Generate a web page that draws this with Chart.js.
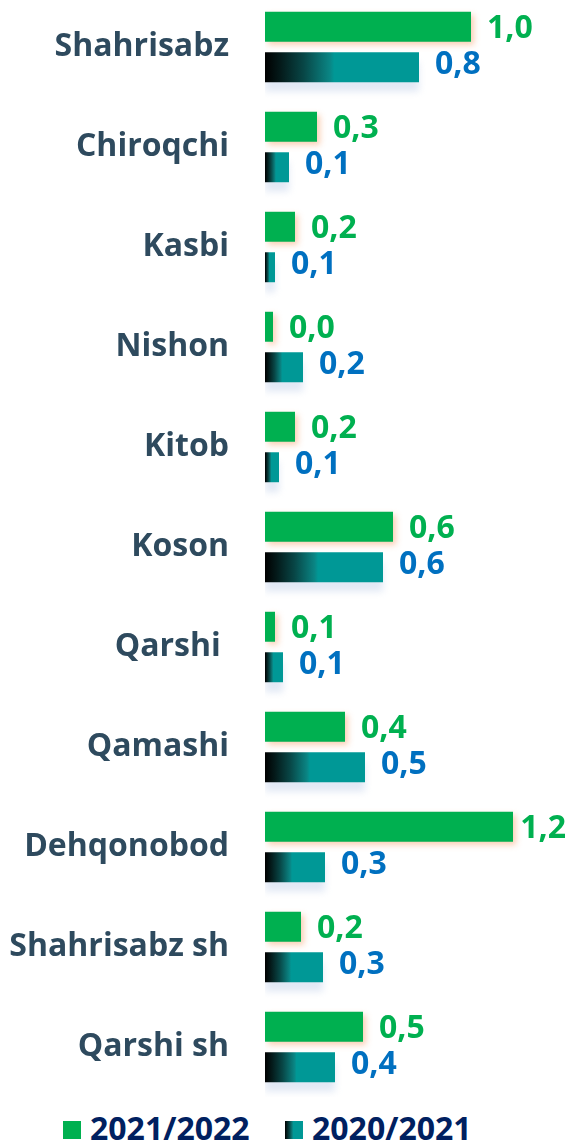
<!DOCTYPE html>
<html>
<head>
<meta charset="utf-8">
<script src="https://cdn.jsdelivr.net/npm/chart.js@4"></script>
<style>
  body { margin: 0; background: #fff; width: 572px; height: 1144px; overflow: hidden; }
  #wrap { position: relative; width: 572px; height: 1100px; margin-top: -3px; }
  #legend { position: absolute; left: 0; top: 1108px; width: 572px; height: 40px;
    font-family: 'Open Sans', sans-serif; font-weight: 700; font-size: 32px; color: #002060; }
  .item { position: absolute; top: 0; white-space: nowrap; line-height: 40px; }
  .box { display: inline-block; width: 18px; height: 18px; margin-right: 9px; vertical-align: 1px; }
</style>
</head>
<body>
<div id="wrap"><canvas id="myChart"></canvas></div>
<div id="legend"></div>
<script>
const districts = ['Shahrisabz', 'Chiroqchi', 'Kasbi', 'Nishon', 'Kitob', 'Koson', 'Qarshi ', 'Qamashi', 'Dehqonobod', 'Shahrisabz sh', 'Qarshi sh'];
const seriesNames = ['2021/2022', '2020/2021'];
const values2022 = [1.03, 0.26, 0.15, 0.04, 0.15, 0.64, 0.05, 0.40, 1.24, 0.18, 0.49];
const values2021 = [0.77, 0.12, 0.05, 0.19, 0.07, 0.59, 0.09, 0.50, 0.30, 0.29, 0.35];

const green = '#00b050';
const teal = '#009896';
const labelColors = ['#00b050', '#0070c0'];

function tealGradient(context) {
    const chart = context.chart;
    const x = chart.scales && chart.scales.x;
    if (!x || context.raw == null) return teal;
    const x0 = x.getPixelForValue(0);
    const x1 = x.getPixelForValue(context.raw);
    if (!isFinite(x0) || !isFinite(x1) || x1 - x0 < 1) return teal;
    const g = chart.ctx.createLinearGradient(x0, 0, x1, 0);
    g.addColorStop(0, '#000000');
    g.addColorStop(0.1, '#041a1a');
    g.addColorStop(0.25, '#084646');
    g.addColorStop(0.42, '#0a8584');
    g.addColorStop(0.45, teal);
    g.addColorStop(1, teal);
    return g;
}

function fmt(v) {
    return (Math.round(v * 10 + 1e-6) / 10).toFixed(1).replace('.', ',');
}

const shadows = [
    { color: 'rgba(245, 150, 90, 0.45)', blur: 6, x: 3, y: 3 },
    { color: 'rgba(170, 190, 225, 0.35)', blur: 7, x: 0, y: 10 }
];

const barShadow = {
    id: 'barShadow',
    beforeDatasetDraw(chart, args) {
        const s = shadows[args.index];
        const ctx = chart.ctx;
        ctx.save();
        ctx.shadowColor = s.color;
        ctx.shadowBlur = s.blur;
        ctx.shadowOffsetX = s.x;
        ctx.shadowOffsetY = s.y;
    },
    afterDatasetDraw(chart) {
        chart.ctx.restore();
    }
};

const valueLabels = {
    id: 'valueLabels',
    afterDatasetsDraw(chart) {
        const ctx = chart.ctx;
        ctx.save();
        ctx.font = "bold 32px 'Open Sans'";
        ctx.textAlign = 'left';
        ctx.textBaseline = 'middle';
        chart.data.datasets.forEach((ds, i) => {
            const meta = chart.getDatasetMeta(i);
            ctx.fillStyle = labelColors[i];
            meta.data.forEach((bar, j) => {
                const text = fmt(ds.data[j]);
                const w = ctx.measureText(text).width;
                // keep the label inside the canvas
                const x = Math.min(bar.x + 16, chart.width - w - 6);
                const dy = i === 0 ? 2 : -2;
                ctx.fillText(text, x, bar.y + dy);
            });
        });
        ctx.restore();
    }
};

const ctx = document.getElementById('myChart');
ctx.width = 572;
ctx.height = 1100;

new Chart(ctx, {
    type: 'bar',
    data: {
        labels: districts,
        datasets: [{
            label: seriesNames[0],
            data: values2022,
            backgroundColor: green,
            barPercentage: 0.74,
            categoryPercentage: 0.81
        }, {
            label: seriesNames[1],
            data: values2021,
            backgroundColor: tealGradient,
            barPercentage: 0.74,
            categoryPercentage: 0.81
        }]
    },
    options: {
        indexAxis: 'y',
        responsive: false,
        animation: false,
        layout: { padding: { left: 0, right: 7, top: 0, bottom: 0 } },
        plugins: {
            legend: { display: false },
            tooltip: { enabled: false }
        },
        scales: {
            x: {
                display: false,
                min: 0,
                max: 1.5
            },
            y: {
                afterFit(scale) {
                    scale.width = 265;
                    scale.paddingTop = 0;
                    scale.paddingBottom = 0;
                },
                border: { display: false },
                grid: {
                    display: true,
                    drawOnChartArea: false,
                    drawTicks: true,
                    tickLength: 36,
                    color: 'rgba(0,0,0,0)'
                },
                ticks: {
                    padding: 0,
                    color: '#2e4a5e',
                    font: { family: 'Open Sans', size: 32, weight: 'bold' }
                }
            }
        }
    },
    plugins: [barShadow, valueLabels]
});

// legend
const legend = document.getElementById('legend');
const boxFills = [green, 'linear-gradient(to right, #000 0%, #084646 25%, #0a8584 42%, ' + teal + ' 45%, ' + teal + ' 100%)'];
const legendLeft = [63, 285];
seriesNames.forEach((name, i) => {
    const item = document.createElement('span');
    item.className = 'item';
    item.style.left = legendLeft[i] + 'px';
    const box = document.createElement('span');
    box.className = 'box';
    box.style.background = boxFills[i];
    item.appendChild(box);
    item.appendChild(document.createTextNode(name));
    legend.appendChild(item);
});
</script>
</body>
</html>
